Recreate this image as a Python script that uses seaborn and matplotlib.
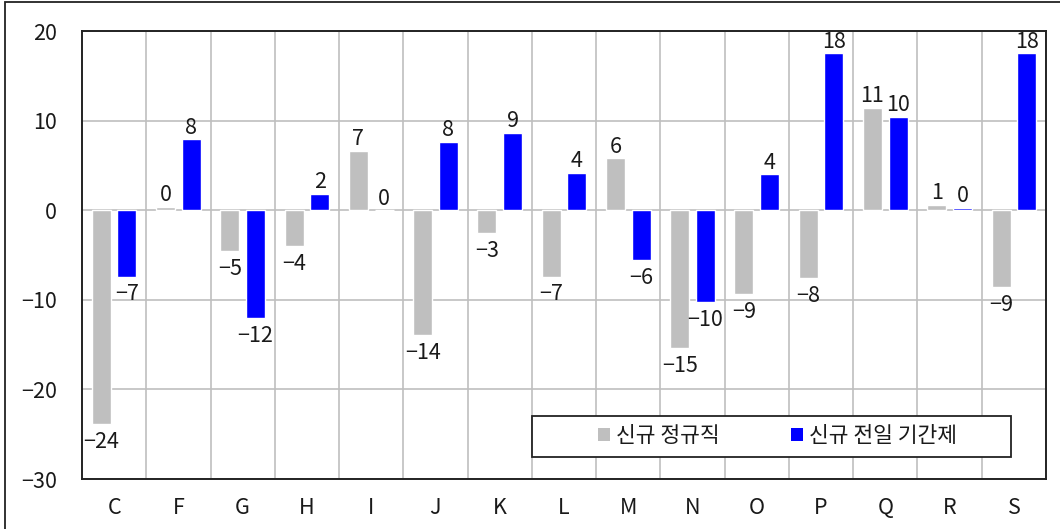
import matplotlib
matplotlib.use("Agg")
import matplotlib.pyplot as plt
from matplotlib.patches import Rectangle
import numpy as np
import pandas as pd
import seaborn as sns

# Industry codes on the x axis
categories = ["C", "F", "G", "H", "I", "J", "K", "L", "M", "N", "O", "P", "Q", "R", "S"]
series_names = ["신규 정규직", "신규 전일 기간제"]
regular = [-23.9, 0.4, -4.6, -4.0, 6.6, -13.9, -2.6, -7.4, 5.8, -15.4, -9.4, -7.6, 11.4, 0.6, -8.6]
fixed_term = [-7.4, 7.9, -12.0, 1.8, 0.0, 7.6, 8.6, 4.2, -5.6, -10.3, 4.0, 17.5, 10.4, 0.3, 17.5]
y_ticks = [-30, -20, -10, 0, 10, 20]

colors = ["#bfbfbf", "#0000ff"]
text_color = "#1a1a1a"
fs = 15.5

df = pd.DataFrame({
    "업종": categories * 2,
    "변화": regular + fixed_term,
    "구분": [series_names[0]] * len(categories) + [series_names[1]] * len(categories),
})

sns.set_theme(style="white")
plt.rcParams["font.family"] = ["Noto Sans CJK KR", "DejaVu Sans"]
plt.rcParams["font.weight"] = "light"
plt.rcParams["axes.unicode_minus"] = True

fig = plt.figure(figsize=(10.6, 5.29), dpi=100)
ax = fig.add_axes([82 / 1060, 1 - 479 / 529, 964 / 1060, 448 / 529])

sns.barplot(data=df, x="업종", y="변화", hue="구분",
            palette=colors, width=0.8, gap=0.26, ax=ax, legend=False,
            saturation=1, zorder=3)

ax.set_ylim(-30, 20)
ax.set_xlim(-0.5, len(categories) - 0.5)
ax.set_yticks(y_ticks)
ax.set_xlabel("")
ax.set_ylabel("")

# Grid: horizontal at y ticks, vertical between categories
ax.set_xticks(np.arange(len(categories)) + 0.5, minor=True)
ax.grid(False)
ax.grid(True, axis="y", which="major", color="#bfbfbf", lw=1.2, zorder=0)
ax.grid(True, axis="x", which="minor", color="#bfbfbf", lw=1.2, zorder=0)
ax.set_axisbelow(True)

ax.tick_params(axis="both", which="both", length=0, labelsize=fs, colors=text_color)
ax.tick_params(axis="y", pad=18)
ax.tick_params(axis="x", pad=13)

for s in ax.spines.values():
    s.set_visible(True)
    s.set_color("#222222")
    s.set_linewidth(1.4)

# Value labels on the bars
values = [regular, fixed_term]
for container, vals in zip(ax.containers, values):
    for patch, v in zip(container.patches, vals):
        cx = patch.get_x() + patch.get_width() / 2
        txt = f"{v:.0f}".replace("-", "\u2212")
        if v >= 0:
            ax.annotate(txt, (cx, v), xytext=(0, 0.5), textcoords="offset points",
                        ha="center", va="bottom", fontsize=fs, color=text_color, zorder=5)
        else:
            ax.annotate(txt, (cx, v), xytext=(0, -5), textcoords="offset points",
                        ha="center", va="top", fontsize=fs, color=text_color, zorder=5)

# Legend with a wide framed box
box = Rectangle((450 / 964, 22 / 448), 479 / 964, 41 / 448, transform=ax.transAxes,
                facecolor="white", edgecolor="#222222", lw=1.3, zorder=6)
ax.add_patch(box)
handles = [Rectangle((0, 0), 1, 1, facecolor=c, edgecolor="none") for c in colors]
leg = ax.legend(handles, series_names, loc="center",
                bbox_to_anchor=((450 + 479 / 2 + 6) / 964, (22 + 41 / 2) / 448),
                ncol=2, frameon=False, fontsize=fs, handlelength=0.55, handleheight=0.55,
                handletextpad=0.3, columnspacing=3.3, borderpad=0)
leg.set_zorder(7)
for t in leg.get_texts():
    t.set_color(text_color)

# Outer border around the figure
fig.add_artist(Rectangle((5 / 1060, -0.05), 1.2, 1 - 2 / 529 + 0.05, transform=fig.transFigure,
                         fill=False, edgecolor="#222222", lw=1.3))

fig.savefig("out.png", dpi=100)
